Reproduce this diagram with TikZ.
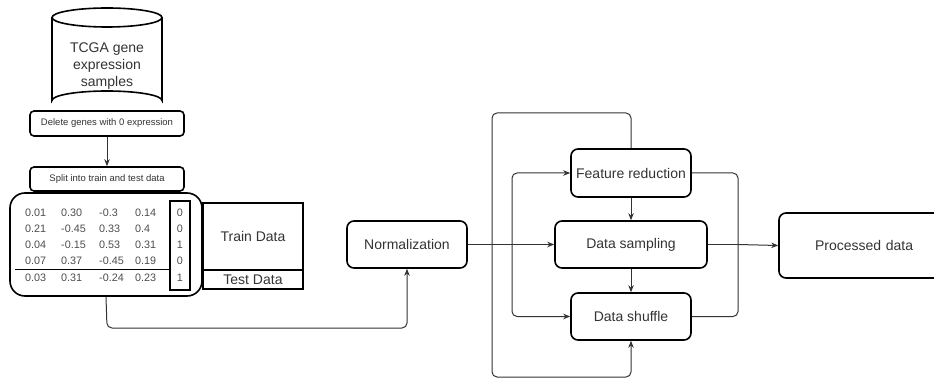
\documentclass[tikz,border=0pt]{standalone}
\usepackage{fontspec}
\setmainfont{Liberation Sans}
\usetikzlibrary{arrows.meta}
\begin{document}
\begin{tikzpicture}[x=1pt,y=-1pt,
  box/.style={draw=black,line width=1.6pt,rounded corners=7pt,inner sep=0pt,
    font=\fontsize{14}{17}\selectfont,text=black!80},
  smallbox/.style={box,rounded corners=4pt,font=\fontsize{9.5}{11}\selectfont},
  sqbox/.style={draw=black,line width=1.6pt,inner sep=0pt,
    font=\fontsize{14}{17}\selectfont,text=black!80},
  link/.style={draw=black!80,line width=1pt,rounded corners=5pt},
  arr/.style={link,-{Stealth[length=7pt,width=5.5pt]}},
  num/.style={anchor=west,inner sep=0pt,font=\fontsize{10.8}{12}\selectfont,text=black!70}]
\useasboundingbox (0,0) rectangle (934,379);

% gene expression database (cylinder)
\draw[line width=1.6pt] (52,17.5) -- (52,100.5)
  arc[start angle=180,end angle=360,x radius=55,y radius=9.5] -- (162,17.5);
\draw[line width=1.6pt] (107,17.5) ellipse[x radius=55,y radius=9.5];
\node[align=center,font=\fontsize{14}{17}\selectfont,text=black!80] (db) at (107,66)
  {TCGA gene\\expression\\samples};

% preprocessing steps
\node[smallbox,minimum width=154pt,minimum height=25pt] (del) at (107,123.5) {Delete genes with 0 expression};
\node[smallbox,minimum width=154pt,minimum height=24pt] (split) at (107,179) {Split into train and test data};
\draw[arr] (del) -- (split);

% data matrix
\node[box,rounded corners=15pt,minimum width=192pt,minimum height=103pt] (tbl) at (106,244.5) {};
\node[draw=black,line width=1.6pt,minimum width=20pt,minimum height=89pt,inner sep=0pt] (lab) at (180,245.5) {};
\draw[line width=1pt] (15,270) -- (lab.west |- 0,270);
\foreach \y/\a/\b/\c/\d/\l in {213/0.01/0.30/-0.3/0.14/0,
                                229/0.21/-0.45/0.33/0.4/0,
                                245/0.04/-0.15/0.53/0.31/1,
                                261/0.07/0.37/-0.45/0.19/0,
                                278/0.03/0.31/-0.24/0.23/1}{
  \node[num] at (25,\y) {\a};
  \node[num] at (61,\y) {\b};
  \node[num] at (99,\y) {\c};
  \node[num] at (135,\y) {\d};
  \node[num,anchor=center] at (180,\y) {\l};
}

% train / test split labels
\node[sqbox,minimum width=100pt,minimum height=67pt] (train) at (253,236.5) {Train Data};
\node[sqbox,minimum width=100pt,minimum height=19pt] (test) at (253,279.5) {Test Data};

% processing pipeline
\node[box,minimum width=120pt,minimum height=47pt] (norm) at (407,244.5) {Normalization};
\node[box,minimum width=120pt,minimum height=48pt] (fred) at (631,173) {Feature reduction};
\node[box,minimum width=152pt,minimum height=47pt] (samp) at (631,244.5) {Data sampling};
\node[box,minimum width=120pt,minimum height=47pt] (shuf) at (631,316.5) {Data shuffle};
\node[box,minimum width=172pt,minimum height=65pt,text width=150pt,align=left] (proc) at (865,245.5)
  {\hspace*{25pt}Processed data};

% connectors
\draw[arr] (tbl.south) -- (107,328) -| (norm.south);
\coordinate (fan) at (512,244.5);
\draw[link] (norm.east) -- (fan);
\draw[arr] (fan) -- (samp.west);
\draw[arr] (fan) |- (fred.west);
\draw[arr] (fan) |- (shuf.west);
\draw[arr] (fred.south) -- (samp.north);
\draw[arr] (samp.south) -- (shuf.north);
\draw[arr] (fred.north) -- (631,113) -- (492,113) -- (492,377) -| (shuf.south);
\coordinate (join) at (738,244.5);
\draw[link] (fred.east) -| (join);
\draw[link] (shuf.east) -| (join);
\draw[link] (samp.east) -- (join);
\draw[arr] (join) -- (proc.west);
\end{tikzpicture}
\end{document}
